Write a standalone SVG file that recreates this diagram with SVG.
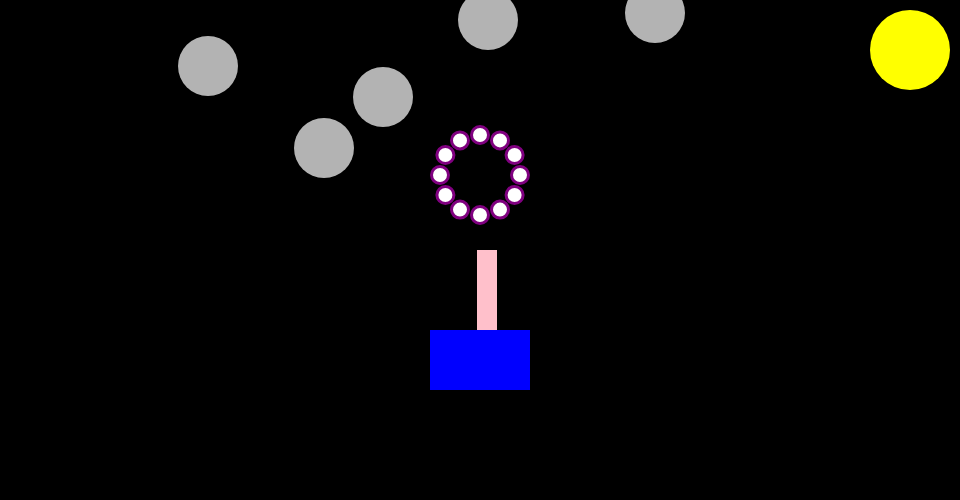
<svg xmlns="http://www.w3.org/2000/svg" width="960" height="500" viewBox="0 0 960 500">
<style>
.g{fill:#b3b3b3}
.d{fill:#fff;stroke:#800080;stroke-width:3}
</style>
<rect width="960" height="500" fill="#000"/>
<circle cx="910" cy="50" r="40" fill="#ff0"/>
<circle class="g" cx="208" cy="66" r="30"/>
<circle class="g" cx="383" cy="97" r="30"/>
<circle class="g" cx="324" cy="148" r="30"/>
<circle class="g" cx="488" cy="20" r="30"/>
<circle class="g" cx="655" cy="13" r="30"/>
<g id="ring">
<circle class="d" cx="480" cy="135" r="8.5"/>
<circle class="d" cx="500" cy="140.4" r="8.5"/>
<circle class="d" cx="514.6" cy="155" r="8.5"/>
<circle class="d" cx="520" cy="175" r="8.5"/>
<circle class="d" cx="514.6" cy="195" r="8.5"/>
<circle class="d" cx="500" cy="209.6" r="8.5"/>
<circle class="d" cx="480" cy="215" r="8.5"/>
<circle class="d" cx="460" cy="209.6" r="8.5"/>
<circle class="d" cx="445.4" cy="195" r="8.5"/>
<circle class="d" cx="440" cy="175" r="8.5"/>
<circle class="d" cx="445.4" cy="155" r="8.5"/>
<circle class="d" cx="460" cy="140.4" r="8.5"/>
</g>
<rect x="477" y="250" width="20" height="80" fill="#ffc0cb"/>
<rect x="430" y="330" width="100" height="60" fill="#00f"/>
</svg>
